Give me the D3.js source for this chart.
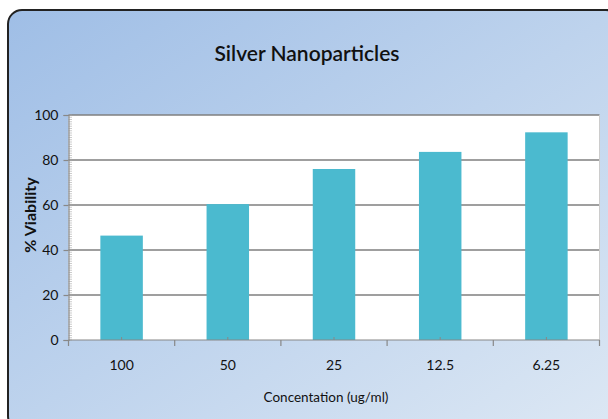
<!DOCTYPE html>
<html><head><meta charset="utf-8">
<script src="https://cdn.jsdelivr.net/npm/d3@7"></script>
<style>body{margin:0;background:#fff}svg{display:block}</style>
</head><body>
<script>
const categories = ["100", "50", "25", "12.5", "6.25"];
const viability = [46.4, 60.4, 76.0, 83.6, 92.3];
const yTicks = [0, 20, 40, 60, 80, 100];
const title = "Silver Nanoparticles";
const xTitle = "Concentation (ug/ml)";
const yTitle = "% Viability";

(function(){
const W = 608, H = 419;
const svg = d3.select("body").append("svg").attr("width", W).attr("height", H);
const defs = svg.append("defs");
const g = defs.append("linearGradient").attr("id","bg").attr("x1","0").attr("y1","0").attr("x2","1").attr("y2","1");
g.append("stop").attr("offset","0").attr("stop-color","#9fbee6");
g.append("stop").attr("offset","1").attr("stop-color","#dde8f4");

svg.append("rect").attr("x",8).attr("y",10).attr("width",612).attr("height",420)
  .attr("rx",14).attr("fill","url(#bg)").attr("stroke","#222").attr("stroke-width",2);

const font = "Lato, 'Open Sans', sans-serif";
const pl = 68.5, pr = 599.5, pt = 115, pb = 340;
const x = d3.scaleBand().domain(categories).range([pl, pr]).paddingInner(0.6).paddingOuter(0.3);
const y = d3.scaleLinear().domain([0, 100]).range([pb, pt]);

svg.append("rect").attr("x", pl).attr("y", pt).attr("width", pr-pl).attr("height", pb-pt).attr("fill","#fff");

svg.append("g").selectAll("line").data(yTicks.filter(d=>d>0)).join("line")
  .attr("x1", pl).attr("x2", pr).attr("y1", d=>y(d)).attr("y2", d=>y(d))
  .attr("stroke","#7f7f7f").attr("stroke-width",1.5);
svg.append("line").attr("x1",pr).attr("x2",pr).attr("y1",pt).attr("y2",pb).attr("stroke","#ccc");

svg.append("g").selectAll("line").data(d3.range(0,101,1)).join("line")
  .attr("x1", pl).attr("x2", pl+3.5).attr("y1", d=>y(d)).attr("y2", d=>y(d))
  .attr("stroke","#aaa").attr("stroke-width",0.6);

svg.append("g").selectAll("rect").data(viability).join("rect")
  .attr("x",(d,i)=>x(categories[i])).attr("width",x.bandwidth())
  .attr("y",d=>y(d)).attr("height",d=>pb-y(d)).attr("fill","#4bbacf");

const ya = svg.append("g").attr("transform",`translate(${pl},0)`)
  .call(d3.axisLeft(y).tickValues(yTicks).tickSize(5).tickPadding(5));
ya.select(".domain").attr("stroke","#888").attr("stroke-width",1.2);
ya.selectAll(".tick line").attr("stroke","#888").attr("stroke-width",1.2);
ya.selectAll("text").attr("font-family",font).attr("font-size",14).attr("fill","#111");

const bounds = d3.range(categories.length+1).map(i => pl + i*(pr-pl)/categories.length);
svg.append("line").attr("x1",pl).attr("x2",pr).attr("y1",pb).attr("y2",pb).attr("stroke","#888").attr("stroke-width",1.2);
svg.append("g").selectAll("line").data(bounds).join("line")
  .attr("x1",d=>d).attr("x2",d=>d).attr("y1",pb).attr("y2",pb+6).attr("stroke","#888").attr("stroke-width",1.2);
svg.append("g").selectAll("line").data(categories).join("line")
  .attr("x1",d=>x(d)+x.bandwidth()/2).attr("x2",d=>x(d)+x.bandwidth()/2).attr("y1",pb).attr("y2",pb-3).attr("stroke","#888");
svg.append("g").selectAll("text").data(categories).join("text")
  .attr("x",d=>x(d)+x.bandwidth()/2).attr("y",370).attr("text-anchor","middle")
  .attr("font-family",font).attr("font-size",14).attr("fill","#111").text(d=>d);

svg.append("text").attr("x",326).attr("y",402).attr("text-anchor","middle")
  .attr("font-family",font).attr("font-size",13.5).attr("fill","#111").text(xTitle);
svg.append("text").attr("transform","translate(36,215) rotate(-90)").attr("text-anchor","middle")
  .attr("font-family",font).attr("font-size",16).attr("font-weight","bold").attr("fill","#111").text(yTitle);
svg.append("text").attr("x",307).attr("y",61).attr("text-anchor","middle")
  .attr("font-family",font).attr("font-size",21).attr("font-weight",600).attr("fill","#111").text(title);
})();
</script>
</body></html>
